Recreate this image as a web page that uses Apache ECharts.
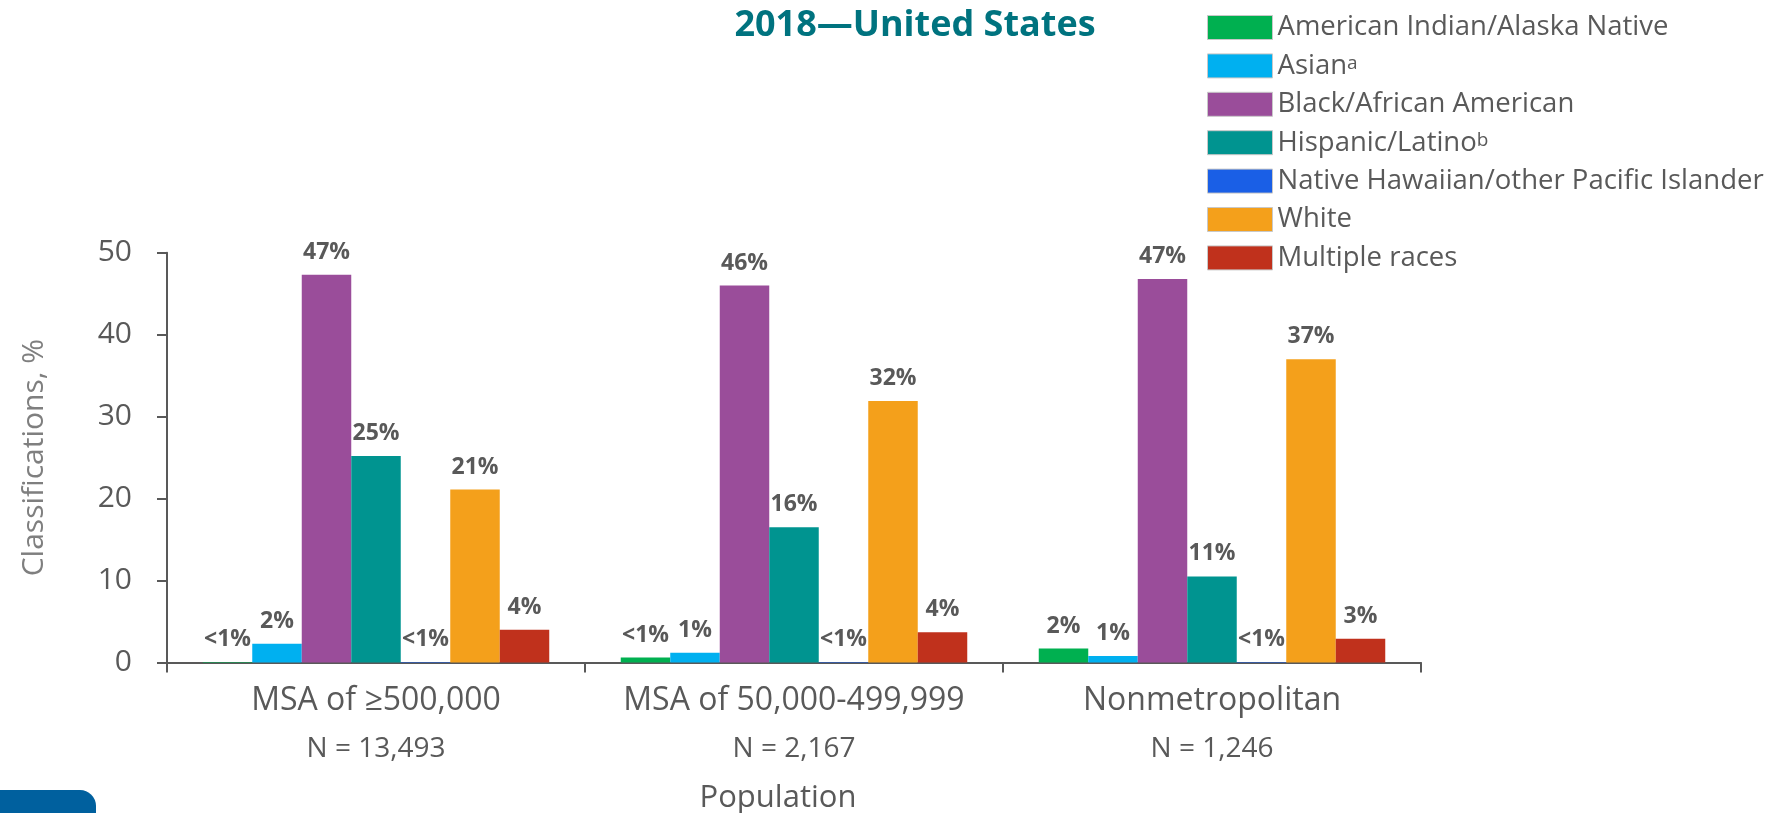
<!DOCTYPE html>
<html>
<head>
<meta charset="utf-8">
<script src="https://cdn.jsdelivr.net/npm/echarts@6/dist/echarts.min.js"></script>
<style>
  html, body { margin: 0; padding: 0; background: #fff; }
  #chart { width: 1775px; height: 813px; }
</style>
</head>
<body>
<div id="chart"></div>
<script>
const categories = ['MSA of ≥500,000', 'MSA of 50,000-499,999', 'Nonmetropolitan'];
const sampleSizes = ['N = 13,493', 'N = 2,167', 'N = 1,246'];

const seriesNames = [
    'American Indian/Alaska Native',
    'Asian',
    'Black/African American',
    'Hispanic/Latino',
    'Native Hawaiian/other Pacific Islander',
    'White',
    'Multiple races'
];
const seriesColors = ['#00b050', '#00b0f0', '#9a4d9a', '#009490', '#1a5fe6', '#f4a01b', '#c0311c'];

const aianValues = [0.05, 0.6, 1.7];
const asianValues = [2.3, 1.2, 0.8];
const blackValues = [47.3, 46.0, 46.8];
const hispanicValues = [25.2, 16.5, 10.5];
const nhpiValues = [0.05, 0.05, 0.05];
const whiteValues = [21.1, 31.9, 37.0];
const multipleValues = [4.0, 3.7, 2.9];

const aianLabels = ['<1%', '<1%', '2%'];
const asianLabels = ['2%', '1%', '1%'];
const blackLabels = ['47%', '46%', '47%'];
const hispanicLabels = ['25%', '16%', '11%'];
const nhpiLabels = ['<1%', '<1%', '<1%'];
const whiteLabels = ['21%', '32%', '37%'];
const multipleLabels = ['4%', '4%', '3%'];

const yTicks = [0, 10, 20, 30, 40, 50];

const allValues = [aianValues, asianValues, blackValues, hispanicValues, nhpiValues, whiteValues, multipleValues];
const allLabels = [aianLabels, asianLabels, blackLabels, hispanicLabels, nhpiLabels, whiteLabels, multipleLabels];

const gray = '#595959';
const font = 'Open Sans';

const chart = echarts.init(document.getElementById('chart'), null, { renderer: 'canvas' });

const series = seriesNames.map((name, i) => ({
    name,
    type: 'bar',
    data: allValues[i],
    barWidth: 49.5,
    barGap: '0%',
    itemStyle: { color: seriesColors[i] },
    label: {
        show: true,
        position: 'top',
        distance: 11,
        formatter: p => allLabels[i][p.dataIndex],
        color: gray,
        fontFamily: font,
        fontWeight: 'bold',
        fontSize: 23
    }
}));

chart.setOption({
    backgroundColor: '#fff',
    animation: false,
    title: {
        text: '2018—United States',
        left: 910,
        top: 3,
        textAlign: 'center',
        textStyle: { color: '#00737f', fontFamily: font, fontWeight: 'bold', fontSize: 36 }
    },
    legend: {
        orient: 'vertical',
        left: 1207,
        top: 13.5,
        padding: 0,
        itemWidth: 65,
        itemHeight: 24,
        itemGap: 10.4,
        icon: 'rect',
        itemStyle: { borderColor: '#c8c8c8', borderWidth: 1 },
        formatter: name => {
            if (name === 'Asian') return 'Asian{sup|a}';
            if (name === 'Hispanic/Latino') return 'Hispanic/Latino{sup|b}';
            return name;
        },
        textStyle: {
            color: gray,
            fontFamily: font,
            fontSize: 27.5,
            lineHeight: 24,
            rich: {
                sup: { fontSize: 19, color: gray, fontFamily: font, verticalAlign: 'top', lineHeight: 6 }
            }
        }
    },
    grid: { left: 167, right: 354, top: 252.7, bottom: 150.5, containLabel: false, outerBoundsMode: 'none' },
    xAxis: {
        type: 'category',
        data: categories,
        name: 'Population',
        nameLocation: 'middle',
        nameGap: 120,
        nameTextStyle: { color: gray, fontFamily: font, fontSize: 31, padding: [0, 32, 0, 0] },
        axisLine: { lineStyle: { color: gray, width: 2 } },
        axisTick: { show: true, length: 10, lineStyle: { color: gray, width: 2 } },
        axisLabel: {
            interval: 0,
            margin: 15,
            formatter: (v, idx) => '{a|' + v + '}\n{b|' + sampleSizes[idx] + '}',
            rich: {
                a: { fontSize: 32, lineHeight: 46, color: gray, fontFamily: font },
                b: { fontSize: 28, lineHeight: 52, color: gray, fontFamily: font }
            }
        }
    },
    yAxis: {
        type: 'value',
        min: yTicks[0],
        max: yTicks[yTicks.length - 1],
        interval: 10,
        name: 'Classifications, %',
        nameLocation: 'middle',
        nameGap: 118,
        nameTextStyle: { color: '#7f7f7f', fontFamily: font, fontSize: 30 },
        axisLine: { show: true, lineStyle: { color: gray, width: 2 } },
        axisTick: { show: true, length: 10, lineStyle: { color: gray, width: 2 } },
        axisLabel: { color: gray, fontFamily: font, fontSize: 30, margin: 35 },
        splitLine: { show: false }
    },
    graphic: [{
        type: 'rect',
        shape: { x: 0, y: 790, width: 96, height: 40, r: [0, 16, 0, 0] },
        style: { fill: '#00609e' }
    }],
    series
});
</script>
</body>
</html>
